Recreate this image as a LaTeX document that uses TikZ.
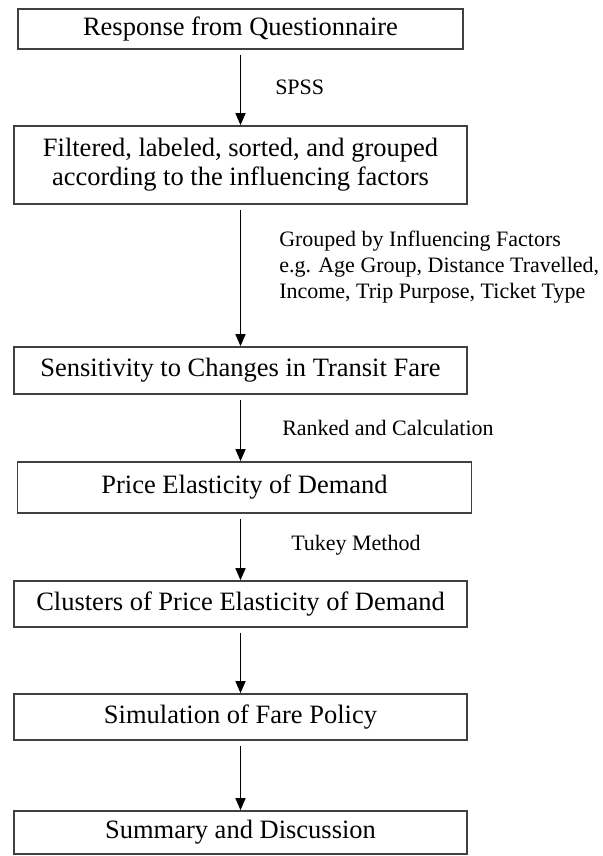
\documentclass[tikz,border=0pt]{standalone}
\usepackage{fontspec}
\setmainfont{Liberation Serif}
\usetikzlibrary{arrows.meta,positioning}

\begin{document}
\begin{tikzpicture}[
  x=0.5pt, y=-0.5pt,
  >={Triangle[length=6pt,width=5pt]},
  stagebox/.style={rectangle, draw=black!75, line width=0.85pt, align=center, inner sep=0pt, minimum width=226.5pt, font=\fontsize{13.25}{14.5}\selectfont},
  flowlabel/.style={inner sep=0pt, align=left, anchor=west, font=\fontsize{11}{13}\selectfont},
  flow/.style={->, line width=0.75pt, shorten <=2.5pt},
]
\useasboundingbox (0,0) rectangle (603,856);
\node[stagebox, minimum width=222.5pt, minimum height=20pt] (resp) at (240.5,29) {Response from Questionnaire};
\node[stagebox, minimum height=39pt, below=37.65pt of resp] (filt) {Filtered, labeled, sorted, and grouped\\according to the influencing factors};
\node[stagebox, minimum height=23.5pt, below=70.65pt of filt] (sens) {Sensitivity to Changes in Transit Fare};
\node[stagebox, minimum width=227pt, minimum height=25.5pt, below=33.15pt of sens, xshift=2pt] (elas) {Price Elasticity of Demand};
\node[stagebox, minimum height=23pt, below=33.15pt of elas, xshift=-2pt] (clus) {Clusters of Price Elasticity of Demand};
\node[stagebox, minimum height=23pt, below=32.65pt of clus] (simu) {Simulation of Fare Policy};
\node[stagebox, minimum height=21.5pt, below=34.65pt of simu] (summ) {Summary and Discussion};
\draw[flow] (resp) -- (filt) node[midway, flowlabel, xshift=17pt] (spss) {SPSS};
\draw[flow] (filt) -- (sens) node[midway, flowlabel, xshift=19pt, yshift=4pt] (grp) {Grouped by Influencing Factors\\e.g. Age Group, Distance Travelled,\\Income, Trip Purpose, Ticket Type};
\draw[flow] (sens.south) -- (sens.south |- elas.north) node[midway, flowlabel, xshift=20.5pt] (rank) {Ranked and Calculation};
\draw[flow] (clus.north |- elas.south) -- (clus.north) node[midway, flowlabel, xshift=25pt, yshift=1pt] (tukey) {Tukey Method};
\draw[flow] (clus) -- (simu);
\draw[flow] (simu) -- (summ);
\end{tikzpicture}
\end{document}
